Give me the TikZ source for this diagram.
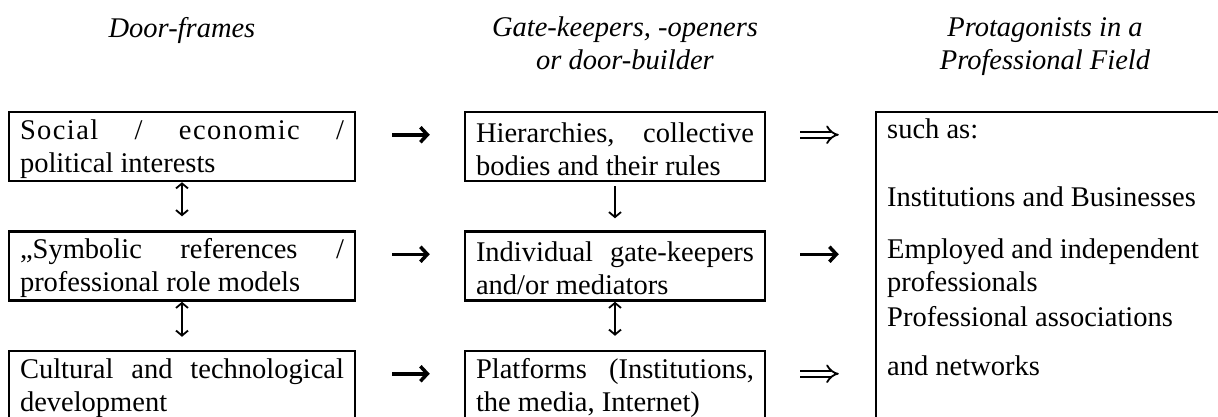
\documentclass[tikz,border=0pt]{standalone}
\usepackage{fontspec}
\setmainfont{Liberation Serif}
\usetikzlibrary{arrows.meta}

\begin{document}
\begin{tikzpicture}[x=1pt, y=-1pt,
    txt/.style={font=\fontsize{28.5}{33}\selectfont},
    frame/.style={draw, line width=2.5pt, txt, align=justify, inner xsep=11pt, inner ysep=0pt, minimum height=69pt,
        execute at begin node={\rule{0pt}{25pt}}},
    wide/.style={frame, text width=324pt},
    narrow/.style={frame, text width=278pt},
    head/.style={font=\fontsize{28.5}{33}\selectfont\itshape, align=center, anchor=north, inner sep=0pt},
    item/.style={txt, anchor=base west, inner sep=0pt},
    arr/.style={line width=3.5pt, -{Straight Barb[length=7pt,width=15pt]}},
    darr/.style={double, double distance=4.5pt, line width=1.8pt, -{Implies}},
    varr/.style={line width=1.8pt, {Straight Barb[length=5pt,width=12pt]}-{Straight Barb[length=5pt,width=12pt]}},
    downarr/.style={line width=1.8pt, -{Straight Barb[length=5pt,width=12pt]}}
]
\useasboundingbox (0,0) rectangle (1218,416);

% column titles
\node[head] (hframes) at (182,17) {Door-frames};
\node[head] (hgate) at (625,17) {Gate-keepers, -openers\\or door-builder};
\node[head] (hfield) at (1045,17) {Protagonists in a\\Professional Field};

% door-frames
\node[wide] (soc) at (182,146.5) {{\addfontfeature{LetterSpace=5}Social / economic /}\linebreak political interests};
\node[wide] (sym) at (182,266) {„Symbolic references /\linebreak professional role models};
\node[wide] (cult) at (182,385.5) {Cultural and technological\linebreak development};

% gate-keepers
\node[narrow] (hier) at (615,146.5) {Hierarchies, collective\linebreak bodies and their rules};
\node[narrow] (gate) at (615,266) {Individual gate-keepers\linebreak and/or mediators};
\node[narrow] (plat) at (615,385.5) {Platforms (Institutions,\linebreak the media, Internet)};

% professional field, runs off the page
\node[draw, line width=2.5pt, anchor=north west, minimum width=400pt, minimum height=360pt] (field) at (874.75,110.75) {};
\node[item] (such) at (887,138.5) {such as:};
\node[item] (inst) at (887,206.7) {Institutions and Businesses};
\node[item] (empl) at (887,258.7) {Employed and independent};
\node[item] (prof) at (887,291.5) {professionals};
\node[item] (assoc) at (887,326.7) {Professional associations};
\node[item] (netw) at (887,375) {and networks};

% arrows between columns
\draw[arr, shorten <=36pt, shorten >=34pt] ([yshift=-24pt]soc.north east) -- ([yshift=-24pt]hier.north west);
\draw[arr, shorten <=36pt, shorten >=34pt] ([yshift=-24pt]sym.north east) -- ([yshift=-24pt]gate.north west);
\draw[arr, shorten <=36pt, shorten >=34pt] ([yshift=-24pt]cult.north east) -- ([yshift=-24pt]plat.north west);
\draw[darr, shorten <=34pt, shorten >=36pt] ([yshift=-24pt]hier.north east) -- ([yshift=-24pt]hier.north east -| field.west);
\draw[arr, shorten <=34pt, shorten >=36pt] ([yshift=-24pt]gate.north east) -- ([yshift=-24pt]gate.north east -| field.west);
\draw[darr, shorten <=34pt, shorten >=36pt] ([yshift=-24pt]plat.north east) -- ([yshift=-24pt]plat.north east -| field.west);

% arrows within columns
\draw[varr, shorten >=14pt] (soc.south) -- (sym.north);
\draw[varr, shorten >=13pt] (sym.south) -- (cult.north);
\draw[downarr, shorten <=4pt, shorten >=12pt] (hier.south) -- (gate.north);
\draw[varr, shorten >=14pt] (gate.south) -- (plat.north);
\end{tikzpicture}
\end{document}
